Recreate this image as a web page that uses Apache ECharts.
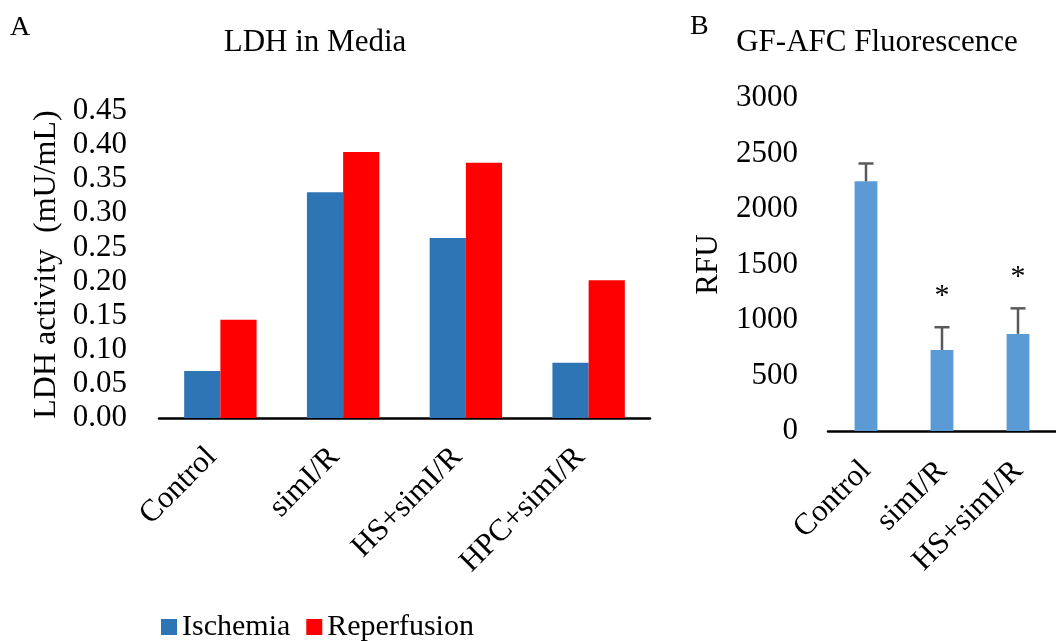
<!DOCTYPE html>
<html>
<head>
<meta charset="utf-8">
<script src="https://cdn.jsdelivr.net/npm/echarts@6/dist/echarts.min.js"></script>
<style>
  html, body { margin: 0; padding: 0; background: #fff; }
  #chart { width: 1056px; height: 641px; }
</style>
</head>
<body>
<div id="chart"></div>
<script>
// Panel A: LDH released into the media
const ldhCategories = ['Control', 'simI/R', 'HS+simI/R', 'HPC+simI/R'];
const ischemia = [0.069, 0.331, 0.264, 0.081];
const reperfusion = [0.144, 0.390, 0.374, 0.202];

// Panel B: GF-AFC fluorescence (mean with upper SD bar)
const afcCategories = ['Control', 'simI/R', 'HS+simI/R'];
const rfuMean = [2250, 730, 875];
const rfuSD = [160, 205, 230];
const rfuMarks = ['', '*', '*'];

const FONT = '"Liberation Serif", "Times New Roman", serif';

const chart = echarts.init(document.getElementById('chart'));

function errorBarItem(params, api) {
  const i = api.value(0);
  const mean = api.value(1);
  const sd = api.value(2);
  const base = api.coord([i, mean]);
  const top = api.coord([i, mean + sd]);
  const cap = 7.5;
  const stroke = { stroke: '#595959', lineWidth: 2.5 };
  const children = [
    { type: 'line', shape: { x1: base[0], y1: base[1], x2: top[0], y2: top[1] }, style: stroke },
    { type: 'line', shape: { x1: top[0] - cap, y1: top[1], x2: top[0] + cap, y2: top[1] }, style: stroke }
  ];
  const mark = rfuMarks[params.dataIndex];
  if (mark) {
    children.push({
      type: 'text',
      x: top[0], y: top[1] - 31,
      style: { text: mark, font: '30px ' + FONT, fill: '#000', textAlign: 'center', textVerticalAlign: 'middle' }
    });
  }
  return { type: 'group', children: children };
}

chart.setOption({
  animation: false,
  backgroundColor: '#fff',
  textStyle: { fontFamily: FONT, color: '#000' },
  graphic: [
    { type: 'text', x: 10, y: 28, style: { text: 'A', font: '28px ' + FONT, fill: '#000', textVerticalAlign: 'middle' } },
    { type: 'text', x: 690, y: 27, style: { text: 'B', font: '28px ' + FONT, fill: '#000', textVerticalAlign: 'middle' } },
    { type: 'text', x: 315, y: 43, style: { text: 'LDH in Media', font: '31px ' + FONT, fill: '#000', textAlign: 'center', textVerticalAlign: 'middle' } },
    { type: 'text', x: 877, y: 43, style: { text: 'GF-AFC Fluorescence', font: '31px ' + FONT, fill: '#000', textAlign: 'center', textVerticalAlign: 'middle' } }
  ],
  legend: {
    data: ['Ischemia', 'Reperfusion'],
    left: 156, top: 607,
    itemWidth: 16, itemHeight: 16, itemGap: 16,
    icon: 'rect',
    textStyle: { fontFamily: FONT, fontSize: 30, color: '#000' }
  },
  grid: [
    { left: 159, top: 111, width: 491, height: 307 },
    { left: 828, top: 98, width: 241, height: 333 }
  ],
  xAxis: [
    {
      type: 'category', gridIndex: 0, data: ldhCategories,
      axisLine: { lineStyle: { color: '#000', width: 2.5 } },
      axisTick: { show: false },
      axisLabel: { rotate: 45, margin: 26, padding: [0, 12, 0, 0], interval: 0, fontFamily: FONT, fontSize: 31, color: '#000' }
    },
    {
      type: 'category', gridIndex: 1, data: afcCategories,
      axisLine: { lineStyle: { color: '#000', width: 2.5 } },
      axisTick: { show: false },
      axisLabel: { rotate: 45, margin: 35, padding: 0, interval: 0, fontFamily: FONT, fontSize: 31, color: '#000' }
    }
  ],
  yAxis: [
    {
      type: 'value', gridIndex: 0, min: 0, max: 0.45, interval: 0.05,
      name: 'LDH activity  (mU/mL)', nameLocation: 'middle', nameGap: 96, nameRotate: 90,
      nameTextStyle: { fontFamily: FONT, fontSize: 32, color: '#000' },
      axisLine: { show: false }, axisTick: { show: false }, splitLine: { show: false },
      axisLabel: { margin: 32, fontFamily: FONT, fontSize: 31, color: '#000', formatter: v => v.toFixed(2) }
    },
    {
      type: 'value', gridIndex: 1, min: 0, max: 3000, interval: 500,
      name: 'RFU', nameLocation: 'middle', nameGap: 104, nameRotate: 90,
      nameTextStyle: { fontFamily: FONT, fontSize: 31, color: '#000' },
      axisLine: { show: false }, axisTick: { show: false }, splitLine: { show: false },
      axisLabel: { margin: 30, fontFamily: FONT, fontSize: 31, color: '#000', formatter: v => String(v) }
    }
  ],
  series: [
    {
      name: 'Ischemia', type: 'bar', xAxisIndex: 0, yAxisIndex: 0,
      data: ischemia, barGap: '0%', barCategoryGap: '41%',
      itemStyle: { color: '#2E75B6' }
    },
    {
      name: 'Reperfusion', type: 'bar', xAxisIndex: 0, yAxisIndex: 0,
      data: reperfusion, barGap: '0%', barCategoryGap: '41%',
      itemStyle: { color: '#FF0000' }
    },
    {
      name: 'RFU', type: 'bar', xAxisIndex: 1, yAxisIndex: 1,
      data: rfuMean, barWidth: '30%',
      itemStyle: { color: '#5B9BD5' }
    },
    {
      name: 'RFU SD', type: 'custom', xAxisIndex: 1, yAxisIndex: 1,
      data: rfuMean.map((m, i) => [i, m, rfuSD[i]]),
      renderItem: errorBarItem, z: 3
    }
  ]
});
</script>
</body>
</html>
